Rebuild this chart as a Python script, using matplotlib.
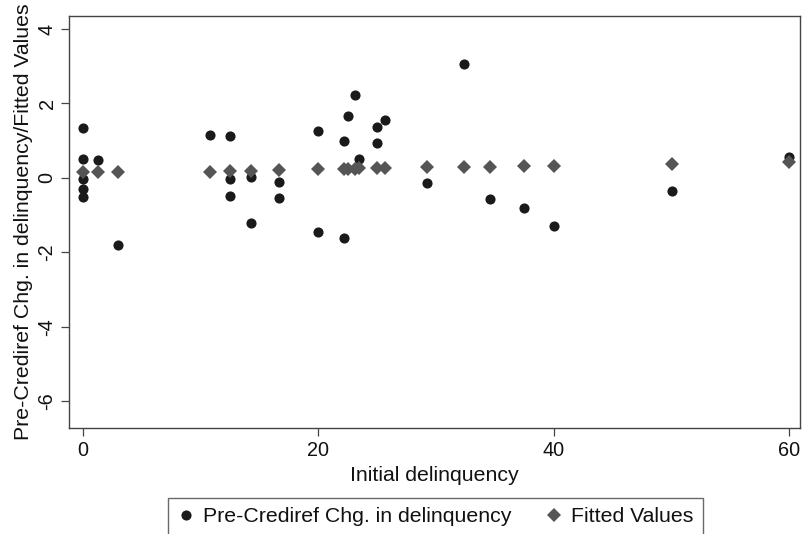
import matplotlib
matplotlib.use("Agg")
import matplotlib.pyplot as plt
from matplotlib.lines import Line2D

plt.rcParams['font.family'] = ['Liberation Sans', 'DejaVu Sans']
plt.rcParams['axes.unicode_minus'] = False

# Observed values (Pre-Crediref change in delinquency)
x_obs = [0, 0, 0, 0, 0, 1.3, 3.0, 10.8, 12.5, 12.5, 12.5, 14.3, 14.3, 16.7, 16.7,
         20.0, 20.0, 22.2, 22.2, 22.5, 23.1, 23.5, 25.0, 25.0, 25.7, 29.2, 32.4,
         34.6, 37.5, 40.0, 50.0, 60.0]
y_obs = [1.33, 0.52, -0.04, -0.31, -0.51, 0.47, -1.81, 1.16, 1.12, -0.03, -0.49,
         0.02, -1.22, -0.11, -0.54, 1.26, -1.45, 0.99, -1.62, 1.66, 2.23, 0.50,
         1.37, 0.95, 1.55, -0.15, 3.06, -0.56, -0.80, -1.29, -0.35, 0.57]

# Fitted values
x_fit = [0, 1.3, 3.0, 10.8, 12.5, 14.3, 16.7, 20.0, 22.2, 22.5, 23.1, 23.5, 25.0,
         25.7, 29.2, 32.4, 34.6, 37.5, 40.0, 50.0, 60.0]
y_fit = [0.15, 0.15, 0.15, 0.17, 0.18, 0.19, 0.20, 0.23, 0.25, 0.25, 0.25, 0.26,
         0.26, 0.26, 0.28, 0.29, 0.30, 0.32, 0.33, 0.37, 0.42]

x_ticks = [0, 20, 40, 60]
y_ticks = [-6, -4, -2, 0, 2, 4]

fig = plt.figure(figsize=(8.02, 5.34), dpi=100)
ax = fig.add_axes([69 / 802, (534 - 428.3) / 534, (800 - 69) / 802, (428.3 - 16) / 534])

circ_color = '#1a1a1a'
dia_color = '#555555'
ax.plot(x_obs, y_obs, 'o', color=circ_color, markersize=7.3, markeredgewidth=0,
        linestyle='none')
ax.plot(x_fit, y_fit, 'D', color=dia_color, markersize=7.2, markeredgewidth=0,
        linestyle='none')

ax.set_xlim(-1.15, 60.9)
ax.set_ylim(-6.73, 4.35)
ax.set_xticks(x_ticks)
ax.set_yticks(y_ticks)

for s in ax.spines.values():
    s.set_color('#444444')
    s.set_linewidth(1.0)

ax.tick_params(axis='both', direction='out', length=6, width=0.9, color='#444444',
               labelsize=14.3, labelcolor='#111111')
ax.tick_params(axis='y', pad=3)
for lab in ax.get_yticklabels():
    lab.set_rotation(90)
    lab.set_va('center')

ax.set_xlabel('Initial delinquency', fontsize=15.3, color='#111111', labelpad=4)
ax.set_ylabel('Pre-Crediref Chg. in delinquency/Fitted Values', fontsize=15.3,
              color='#111111', labelpad=3)

handles = [
    Line2D([], [], marker='o', color=circ_color, linestyle='none', markersize=7.3,
           markeredgewidth=0),
    Line2D([], [], marker='D', color=dia_color, linestyle='none', markersize=7.2,
           markeredgewidth=0),
]
leg = fig.legend(handles, ['Pre-Crediref Chg. in delinquency', 'Fitted Values'],
                 loc='center', bbox_to_anchor=(435.5 / 802, 17 / 534), ncol=2,
                 fontsize=15.3, frameon=True, fancybox=False, handlelength=0.8,
                 handletextpad=0.4, columnspacing=1.6, borderpad=0.45,
                 borderaxespad=0)
leg.get_frame().set_edgecolor('#444444')
leg.get_frame().set_linewidth(1.0)
for t in leg.get_texts():
    t.set_color('#111111')

fig.savefig('out.png', dpi=100)
